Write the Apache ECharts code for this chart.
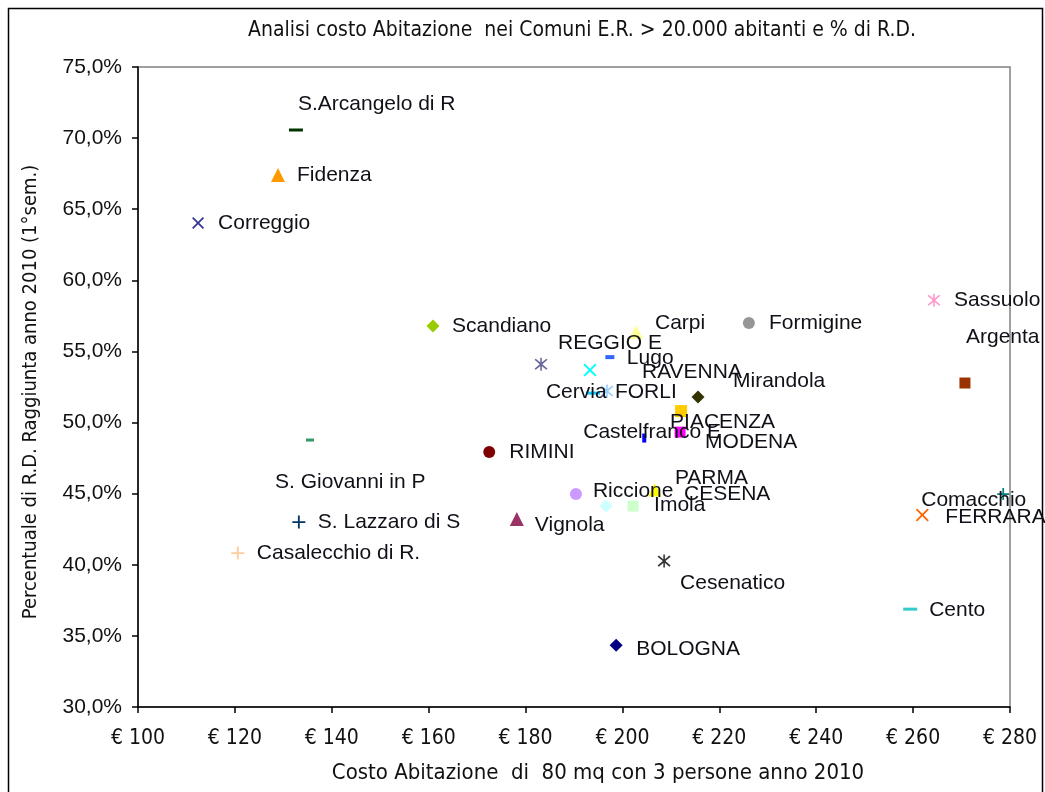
<!DOCTYPE html>
<html>
<head>
<meta charset="utf-8">
<title>Analisi costo Abitazione</title>
<script src="https://cdn.jsdelivr.net/npm/echarts@6/dist/echarts.min.js"></script>
<style>
  html, body { margin: 0; padding: 0; background: #fff; }
  #chart { width: 1045px; height: 792px; }
</style>
</head>
<body>
<div id="chart"></div>
<script>
// Comuni dell'Emilia-Romagna sopra i 20.000 abitanti
const cities = [
  'BOLOGNA', 'MODENA', 'PARMA', 'RAVENNA', 'RIMINI', 'Comacchio', 'Castelfranco E',
  'Cervia', 'CESENA', 'Imola', 'Carpi', 'FORLI', 'Sassuolo', 'Riccione',
  'Casalecchio di R.', 'Lugo', 'Cento', 'Scandiano', 'PIACENZA', 'Fidenza', 'FERRARA',
  'REGGIO E', 'Formigine', 'S. Lazzaro di S', 'S. Giovanni in P', 'S.Arcangelo di R',
  'Mirandola', 'Argenta', 'Vignola', 'Correggio', 'Cesenatico'
];
// Costo abitazione (80 mq, 3 persone) in euro
const costs = [
  198.7, 211.9, 206.7, 193.3, 172.5, 278.6, 204.5,
  193.9, 196.6, 202.2, 202.8, 196.8, 264.3, 190.4,
  120.6, 197.4, 259.4, 160.9, 212.1, 128.9, 261.9,
  183.2, 226.1, 133.2, 135.5, 132.6,
  215.6, 270.7, 178.2, 112.4, 208.6
];
// Percentuale di raccolta differenziata raggiunta (1° sem. 2010)
const rdPercent = [
  34.35, 49.33, 45.25, 53.69, 47.93, 44.97, 48.91,
  52.07, 44.13, 44.13, 56.36, 52.22, 58.60, 44.97,
  40.82, 54.60, 36.88, 56.79, 50.81, 67.40, 43.50,
  54.10, 57.00, 43.00, 48.77, 70.57,
  51.79, 52.78, 43.21, 64.03, 40.26
];
// Etichetta "Faenza" (nessun marcatore visibile per il comune)
const extraLabels = ['Faenza'];
const extraCosts = [204.7];
const extraRd = [55.66];

const xTicks = { min: 100, max: 280, step: 20 };
const yTicks = { min: 30, max: 75, step: 5 };

// Marker shapes
const P_PLUS = 'path://M4.3,0H5.7V4.3H10V5.7H5.7V10H4.3V5.7H0V4.3H4.3Z';
const P_X = 'path://M0,1L1,0L5,4L9,0L10,1L6,5L10,9L9,10L5,6L1,10L0,9L4,5Z';
const P_STAR = 'path://M0,1.6L0.9,0.7L5,4.1L9.1,0.7L10,1.6L6,5L10,8.4L9.1,9.3L5,5.9L0.9,9.3L0,8.4L4,5ZM4.4,0H5.6V10H4.4Z';

// Per-city marker style and label placement [dx, dy] from marker centre
const styles = {
  'BOLOGNA':          { s: 'diamond',  c: '#000080', z: 13, l: [20, 4] },
  'MODENA':           { s: 'rect',     c: '#FF00FF', z: 11, l: [25, 10] },
  'PARMA':            { s: 'triangle', c: '#FFFF00', z: 13, l: [20, -12] },
  'RAVENNA':          { s: P_X,        c: '#00FFFF', z: 13, l: [52, 2] },
  'RIMINI':           { s: 'circle',   c: '#800000', z: 12, l: [20, 0] },
  'Comacchio':        { s: P_PLUS,     c: '#008080', z: 12, l: [-82, 6] },
  'Castelfranco E':   { s: 'rect',     c: '#0000FF', z: [4, 9], l: [-61, -6] },
  'Cervia':           { s: 'rect',     c: '#00CCFF', z: [14, 3], l: [-47, -1] },
  'CESENA':           { s: 'diamond',  c: '#CCFFFF', z: 13, l: [78, -12] },
  'Imola':            { s: 'rect',     c: '#CCFFCC', z: 11, l: [21, -1] },
  'Carpi':            { s: 'triangle', c: '#FFFF99', z: 14, l: [19, -9] },
  'FORLI':            { s: P_STAR,     c: '#99CCFF', z: 13, l: [8, 1] },
  'Sassuolo':         { s: P_STAR,     c: '#FF99CC', z: 13, l: [20, 0] },
  'Riccione':         { s: 'circle',   c: '#CC99FF', z: 12, l: [17, -3] },
  'Casalecchio di R.':{ s: P_PLUS,     c: '#FFCC99', z: 13, l: [19, 0] },
  'Lugo':             { s: 'rect',     c: '#3366FF', z: [9, 4], l: [17, 1] },
  'Cento':            { s: 'rect',     c: '#33CCCC', z: [14, 3], l: [19, 1] },
  'Scandiano':        { s: 'diamond',  c: '#99CC00', z: 13, l: [19, 0] },
  'PIACENZA':         { s: 'rect',     c: '#FFCC00', z: 12, l: [-11, 11] },
  'Fidenza':          { s: 'triangle', c: '#FF9900', z: 14, l: [19, 0] },
  'FERRARA':          { s: P_X,        c: '#FF6600', z: 13, l: [23, 2] },
  'REGGIO E':         { s: P_STAR,     c: '#666699', z: 13, l: [17, -21] },
  'Formigine':        { s: 'circle',   c: '#969696', z: 12, l: [20, 0] },
  'S. Lazzaro di S':  { s: P_PLUS,     c: '#003366', z: 13, l: [19, 0] },
  'S. Giovanni in P': { s: 'rect',     c: '#339966', z: [8, 3], l: [-35, 42] },
  'S.Arcangelo di R': { s: 'rect',     c: '#003300', z: [14, 3], l: [2, -26] },
  'Mirandola':        { s: 'diamond',  c: '#333300', z: 13, l: [35, -16] },
  'Argenta':          { s: 'rect',     c: '#993300', z: 11, l: [1, -46] },
  'Vignola':          { s: 'triangle', c: '#993366', z: 14, l: [18, 6] },
  'Correggio':        { s: P_X,        c: '#333399', z: 12, l: [20, 0] },
  'Cesenatico':       { s: P_STAR,     c: '#333333', z: 13, l: [16, 22] },
  'Faenza':           { s: 'none',     c: '#800080', z: 0,  l: [0, 0] }
};

const labelFont = "'Liberation Sans', Arial, sans-serif";
const narrowFont = "'Liberation Sans Narrow', 'Arial Narrow', 'DejaVu Sans Condensed', sans-serif";

function citySeries(name, x, y) {
  const st = styles[name];
  return {
    type: 'scatter',
    name: name,
    data: [[x, y]],
    symbol: st.s,
    symbolSize: st.z,
    itemStyle: { color: st.c, opacity: 1 },
    emphasis: { disabled: true },
    label: {
      show: true,
      position: 'inside',
      align: 'left',
      verticalAlign: 'middle',
      offset: st.l,
      formatter: name,
      color: '#101018',
      fontFamily: labelFont,
      fontSize: 21,
      textBorderWidth: 0
    },
    z: 3
  };
}

const series = cities.map((n, i) => citySeries(n, costs[i], rdPercent[i]))
  .concat(extraLabels.map((n, i) => citySeries(n, extraCosts[i], extraRd[i])));

const chart = echarts.init(document.getElementById('chart'), null, { renderer: 'canvas' });
chart.setOption({
  animation: false,
  backgroundColor: '#ffffff',
  title: {
    text: 'Analisi costo Abitazione  nei Comuni E.R. > 20.000 abitanti e % di R.D.',
    left: 577,
    textAlign: 'center',
    top: 15,
    textStyle: { fontFamily: narrowFont, fontSize: 21, fontWeight: 'normal', color: '#111' }
  },
  graphic: [{
    type: 'rect',
    shape: { x: 8.5, y: 8.5, width: 1034, height: 790 },
    style: { fill: 'none', stroke: '#000', lineWidth: 1.5 },
    silent: true
  }],
  grid: {
    left: 138, right: 35, top: 67, bottom: 85,
    outerBoundsMode: 'none',
    show: true, borderColor: '#808080', borderWidth: 1.5, backgroundColor: '#fff'
  },
  xAxis: {
    type: 'value',
    min: xTicks.min, max: xTicks.max, interval: xTicks.step,
    name: 'Costo Abitazione  di  80 mq con 3 persone anno 2010',
    nameLocation: 'middle',
    nameGap: 55,
    nameTextStyle: { fontFamily: narrowFont, fontSize: 22, color: '#111', padding: [0, 0, 0, 48] },
    axisLine: { show: true, onZero: false, lineStyle: { color: '#000', width: 1.5 } },
    axisTick: { show: true, length: 6, lineStyle: { color: '#000', width: 1.5 } },
    axisLabel: {
      formatter: v => '€ ' + v,
      margin: 21,
      fontFamily: narrowFont, fontSize: 21, color: '#111'
    },
    splitLine: { show: false }
  },
  yAxis: {
    type: 'value',
    min: yTicks.min, max: yTicks.max, interval: yTicks.step,
    name: 'Percentuale di R.D. Raggiunta anno 2010 (1°sem.)',
    nameLocation: 'middle',
    nameRotate: 90,
    nameGap: 97,
    nameTextStyle: { fontFamily: narrowFont, fontSize: 20, color: '#111', padding: [0, 10, 0, 0] },
    axisLine: { show: true, onZero: false, lineStyle: { color: '#000', width: 1.5 } },
    axisTick: { show: true, length: 6, lineStyle: { color: '#000', width: 1.5 } },
    axisLabel: {
      formatter: v => v.toFixed(1).replace('.', ',') + '%',
      margin: 16,
      fontFamily: labelFont, fontSize: 21, color: '#111'
    },
    splitLine: { show: false }
  },
  series: series
});
</script>
</body>
</html>
